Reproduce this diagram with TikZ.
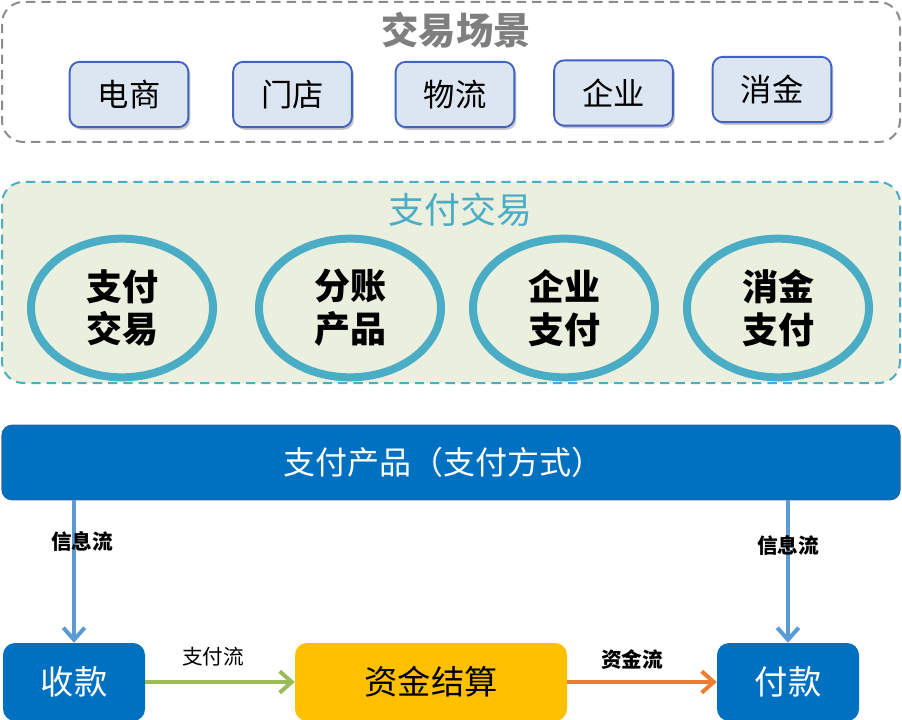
\documentclass[tikz,border=0pt]{standalone}
\usepackage{fontspec}
\setmainfont{Noto Sans CJK SC}
\usetikzlibrary{shapes.geometric,arrows.meta,shadows}
\definecolor{grayline}{HTML}{8C8C8C}
\definecolor{graytext}{HTML}{7F7F7F}
\definecolor{boxfill}{HTML}{DCE6F2}
\definecolor{boxline}{HTML}{4262C2}
\definecolor{panelfill}{HTML}{EBF0DE}
\definecolor{teal}{HTML}{4BACC6}
\definecolor{barblue}{HTML}{0070C0}
\definecolor{barline}{HTML}{2A64A0}
\definecolor{arrowblue}{HTML}{5B9BD5}
\definecolor{flowgreen}{HTML}{9BBB59}
\definecolor{floworange}{HTML}{ED7D31}
\definecolor{settleyellow}{HTML}{FFC000}
\tikzset{
  scenebox/.style={draw=boxline,line width=1.4pt,fill=boxfill,rounded corners=7.5pt,
    minimum width=89pt,minimum height=49pt,font=\fontsize{23.5pt}{26pt}\selectfont,
    drop shadow={shadow xshift=1.5pt,shadow yshift=-2pt,fill=black!50,opacity=0.45}},
  container/.style={rounded corners=16pt,line width=1.5pt,dash pattern=on 7pt off 4.5pt,
    minimum width=673.5pt},
  oval/.style={ellipse,draw=teal,line width=6pt,minimum width=136.5pt,minimum height=104pt,
    align=center,font=\fontsize{27pt}{32pt}\selectfont\bfseries},
  flowbox/.style={rounded corners=9pt,minimum height=58.5pt,
    font=\fontsize{25pt}{28pt}\selectfont},
  flowlabel/.style={font=\fontsize{15.5pt}{18pt}\selectfont\bfseries,inner sep=0pt},
  flowarrow/.style={line width=3pt,-{Straight Barb[length=9pt,width=16pt,line width=3pt]}},
}
\begin{document}
\begin{tikzpicture}[x=0.75pt,y=-0.75pt]
\useasboundingbox (0,0) rectangle (902,720);
% top container
\node[container,draw=grayline,minimum height=105pt] (scen) at (451,72) {};
\node[font=\fontsize{28pt}{30pt}\selectfont\bfseries,text=graytext] (scentitle) at (456,30) {交易场景};
\node[scenebox] (ds) at (129,94.5) {电商};
\node[scenebox] (md) at (292.5,94.5) {门店};
\node[scenebox] (wl) at (455,94.5) {物流};
\node[scenebox] (qy) at (613.5,93) {企业};
\node[scenebox] (xj) at (772,89.5) {消金};
% middle panel
\node[container,draw=teal,fill=panelfill,minimum height=150.75pt] (pay) at (451,282.5) {};
\node[font=\fontsize{27pt}{30pt}\selectfont,text=teal] (paytitle) at (460,210) {支付交易};
\node[oval] (o1) at (122,308) {支付\\交易};
\node[oval] (o2) at (350,308) {分账\\产品};
\node[oval] (o3) at (564,308) {企业\\支付};
\node[oval] (o4) at (778,308) {消金\\支付};
% bar
\node[draw=barline,line width=0.8pt,fill=barblue,rounded corners=7.5pt,minimum width=673.5pt,
  minimum height=56pt,text=white,font=\fontsize{24pt}{26pt}\selectfont] (bar) at (451,462.5) {\hspace*{-12pt}支付产品（支付方式）};
% bottom
\node[flowbox,fill=barblue,text=white,minimum width=106.5pt] (sk) at (74,682) {收款};
\node[flowbox,fill=settleyellow,text=black,minimum width=204pt] (js) at (431,682) {资金结算};
\node[flowbox,fill=barblue,text=white,minimum width=106.5pt] (fk) at (788,682) {付款};
% arrows
\draw[flowarrow,arrowblue] (bar.south -| sk.north) -- (sk.north);
\draw[flowarrow,arrowblue] (bar.south -| fk.north) -- (fk.north);
\draw[flowarrow,flowgreen] (sk.east) -- (js.west);
\draw[flowarrow,floworange] (js.east) -- (fk.west);
\node[flowlabel] (l1) at (82,542) {信息流};
\node[flowlabel] (l2) at (788,546) {信息流};
\node[flowlabel,font=\fontsize{15.5pt}{18pt}\selectfont] (l3) at (213,657) {支付流};
\node[flowlabel] (l4) at (632,660) {资金流};
\end{tikzpicture}
\end{document}
